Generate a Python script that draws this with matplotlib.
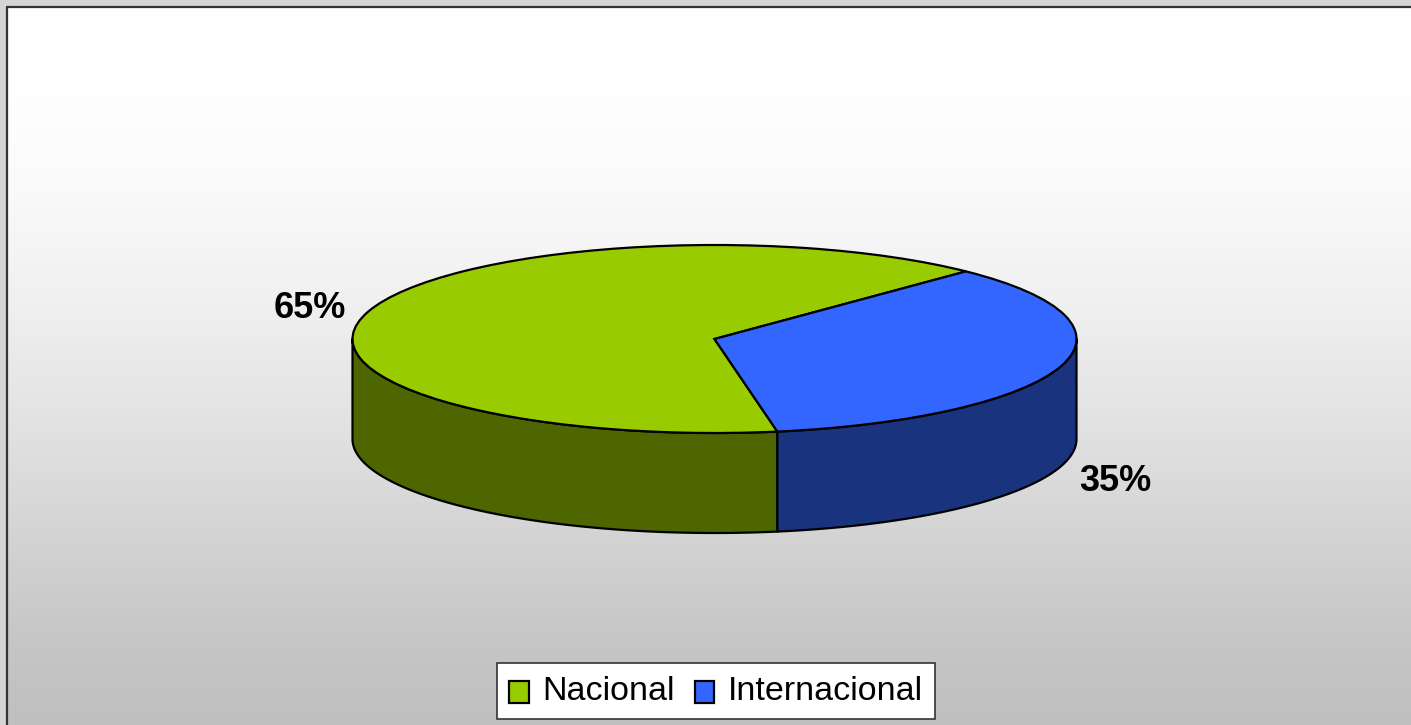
import numpy as np
import matplotlib
matplotlib.use("Agg")
import matplotlib.pyplot as plt
from matplotlib.colors import LinearSegmentedColormap
from matplotlib.patches import Rectangle, Polygon

categories = ["Nacional", "Internacional"]
values = [65, 35]
labels = ["65%", "35%"]
colors_top = ["#99CC00", "#3366FF"]
colors_side = ["#4D6600", "#19337F"]

W, H = 1411, 725
plt.rcParams["font.family"] = ["Liberation Sans", "DejaVu Sans"]

fig = plt.figure(figsize=(W / 100, H / 100), dpi=100, facecolor="#D4D4D4")

# panel with gradient, frame runs off the right and bottom edges
bg = fig.add_axes([0, 0, 1, 1], xlim=(0, W), ylim=(H, 0))
bg.axis("off")
cmap = LinearSegmentedColormap.from_list("bg", [
    (0.0, "#FFFFFF"), (0.13, "#FEFEFE"), (0.25, "#FAFAFA"), (0.41, "#F0F0F0"),
    (0.55, "#E5E5E5"), (0.69, "#D8D8D8"), (0.83, "#CBCBCB"), (0.895, "#C5C5C5"),
    (1.0, "#C0C0C0")])
bg.imshow(np.linspace(0, 1, 256).reshape(-1, 1), cmap=cmap, aspect="auto",
          extent=(7, W, H, 7), zorder=1)
bg.plot([7, 7], [H, 7], color="#333333", lw=1.6, zorder=2, solid_capstyle="butt")
bg.plot([6, W], [7, 7], color="#333333", lw=1.6, zorder=2, solid_capstyle="butt")
bg.set_xlim(0, W)
bg.set_ylim(H, 0)

# pie geometry in pixels
cx, cy, rx, ry, depth = 714.5, 339, 362, 94, 100
ax = fig.add_axes([0, 0, 1, 1])
start = 46

# side walls first, only the front half of the ellipse shows
fracs = np.array(values) / sum(values)
edges = start + np.concatenate([[0], np.cumsum(fracs)]) * 360
d = depth / ry
for i in range(len(values)):
    a0, a1 = edges[i], edges[i + 1]
    lo, hi = max(a0, 180), min(a1, 360)
    if i == 1:
        # the second slice wraps round past 360 deg
        lo, hi = a0, 360
    t = np.radians(np.linspace(lo, hi, 200))
    x = np.cos(t)
    y = np.sin(t)
    pts = np.vstack([np.column_stack([x, y]),
                     np.column_stack([x[::-1], y[::-1] - d])])
    ax.add_patch(Polygon(pts, closed=True, facecolor=colors_side[i],
                         edgecolor="black", lw=1.6, joinstyle="round", zorder=1))

wedges, _ = ax.pie(values, colors=colors_top, startangle=start, radius=1,
                   wedgeprops={"edgecolor": "black", "linewidth": 1.6, "zorder": 2})

ax.set_aspect("auto")
ax.set_xlim(-cx / rx, (W - cx) / rx)
ax.set_ylim((cy - H) / ry, cy / ry)
ax.axis("off")
ax.patch.set_alpha(0)

ax.text((309.5 - cx) / rx, (cy - 308) / ry, labels[0], fontsize=26, fontweight="bold",
        ha="center", va="center", color="black", zorder=5)
ax.text((1115.5 - cx) / rx, (cy - 481.5) / ry, labels[1], fontsize=26, fontweight="bold",
        ha="center", va="center", color="black", zorder=5)

# legend
handles = [Rectangle((0, 0), 1, 1, facecolor=c, edgecolor="black", lw=1.6) for c in colors_top]
leg = fig.legend(handles, categories, loc="center", bbox_to_anchor=(716 / W, 1 - 691 / H),
                 ncol=2, fontsize=24.5, frameon=True, fancybox=False, framealpha=1,
                 facecolor="white", edgecolor="#333333", handlelength=0.58, handleheight=0.58,
                 handletextpad=0.4, columnspacing=0.58, borderpad=0.36, borderaxespad=0)
leg.get_frame().set_linewidth(1.2)
# squares sit on the text baseline
for h in leg.legend_handles:
    h.set_y(h.get_y() - 3.2)

fig.savefig("out.png", dpi=100, facecolor=fig.get_facecolor())
